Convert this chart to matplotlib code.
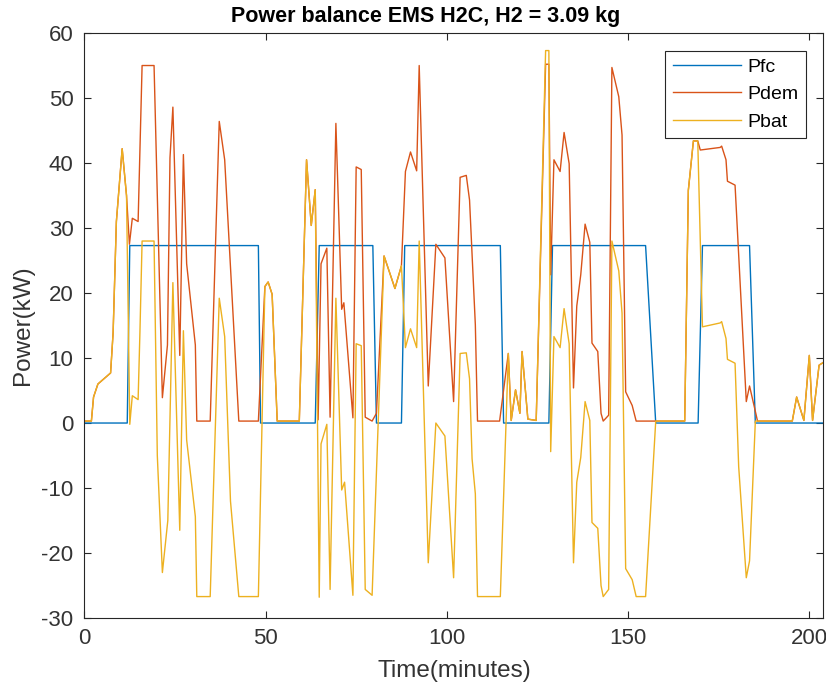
import matplotlib
matplotlib.use("Agg")
import matplotlib.pyplot as plt

plt.rcParams['font.family'] = ['Liberation Sans', 'DejaVu Sans']
plt.rcParams['axes.unicode_minus'] = False

# Fuel cell power (kW) vs time (min)
t_fc = [0, 11.8, 12.5, 48.0, 48.6, 63.7, 64.8, 79.6, 80.6, 87.5, 88.4, 114.8,
        115.7, 128.2, 129.2, 154.9, 157.7, 169.4, 170.6, 183.6, 185.2, 205.3]
p_fc = [0, 0, 27.3, 27.3, 0, 0, 27.3, 27.3, 0, 0, 27.3, 27.3,
        0, 0, 27.3, 27.3, 0, 0, 27.3, 27.3, 0, 0]

# Power demand
t_dem = [0, 1.9, 2.5, 3.7, 7.2, 7.9, 8.8, 10.4, 11.6, 12.4, 13.2, 14.8, 15.9, 19.2,
         21.5, 22.9, 23.6, 24.4, 26.3, 27.3, 28.2, 30.6, 31.0, 34.7, 37.2, 38.7,
         42.6, 48.0, 49.8, 50.7, 51.8, 53.2, 59.3, 61.3, 62.6, 63.7, 64.5, 65.3,
         66.9, 67.8, 69.4, 71.0, 71.6, 74.1, 75.0, 76.4, 77.5, 79.4, 80.6, 82.7,
         85.7, 87.5, 88.6, 90.0, 91.7, 92.4, 94.9, 97.0, 99.5, 101.9, 103.7, 105.4,
         106.3, 107.9, 108.5, 114.6, 117.0, 117.8, 119.0, 120.2, 120.8, 122.4,
         124.7, 127.3, 128.2, 128.7, 129.6, 131.3, 132.4, 133.8, 135.0, 135.9,
         137.0, 138.2, 139.5, 140.1, 141.7, 142.6, 143.2, 144.7, 145.6, 147.5,
         148.4, 149.4, 151.2, 152.3, 165.7, 166.7, 168.1, 169.3, 170.0, 175.5,
         175.9, 177.1, 177.5, 179.6, 182.7, 183.6, 185.2, 185.8, 195.4, 196.6,
         198.6, 200.1, 201.0, 202.8, 205.3]
p_dem = [0.3, 0.3, 4.0, 6.0, 7.7, 13.9, 31.0, 42.2, 35.0, 27.5, 31.5, 31.0, 55.0, 55.0,
         3.9, 12.0, 40.8, 48.6, 10.4, 41.3, 24.5, 12.0, 0.3, 0.3, 46.4, 40.5,
         0.3, 0.3, 21.0, 21.7, 19.8, 0.3, 0.3, 40.5, 30.4, 35.9, 0.5, 24.5,
         26.9, 0.9, 46.1, 17.5, 18.5, 0.8, 39.4, 39.0, 0.9, 0.3, 1.5, 25.7,
         20.7, 24.2, 38.7, 41.7, 38.8, 55.0, 5.7, 27.5, 25.4, 3.3, 37.8, 38.1,
         34.3, 15.1, 0.3, 0.3, 10.7, 0.4, 5.1, 1.5, 11.0, 0.6,
         0.4, 55.2, 55.2, 22.8, 40.5, 38.7, 44.7, 39.9, 5.4, 18.0,
         22.8, 30.6, 27.8, 12.3, 11.0, 1.5, 0.3, 1.2, 54.7, 50.2,
         44.3, 4.8, 2.7, 0.3, 0.3, 35.8, 43.4, 43.4, 42.0, 42.4,
         42.6, 40.5, 37.2, 36.6, 3.3, 5.7, 1.8, 0.3, 0.3, 4.0,
         0.4, 10.4, 0.4, 8.9, 9.8]

# Battery power
t_bat = [0, 1.9, 2.5, 3.7, 7.2, 7.9, 8.8, 10.4, 11.6, 12.5, 13.2, 14.8, 15.3, 15.9,
         19.2, 20.1, 21.5, 23.0, 24.4, 26.3, 27.3, 28.2, 30.6, 31.0, 34.7, 37.2,
         38.7, 40.3, 42.6, 48.0, 49.8, 50.7, 51.8, 53.2, 59.3, 61.3, 62.6, 63.7,
         64.8, 65.3, 66.9, 67.8, 69.4, 71.0, 71.8, 74.1, 75.0, 76.4, 77.5, 79.4,
         82.7, 85.7, 87.5, 88.6, 90.0, 91.7, 92.4, 94.9, 97.0, 99.5, 101.9, 103.7,
         105.4, 106.3, 107.0, 107.9, 108.5, 114.8, 117.0, 117.8, 119.0, 120.2,
         120.8, 122.4, 124.7, 127.3, 128.2, 128.7, 129.6, 131.3, 132.4, 133.8,
         135.0, 135.9, 137.0, 138.2, 139.5, 140.1, 141.7, 142.6, 143.2, 144.7,
         145.6, 147.5, 148.4, 149.4, 151.2, 152.3, 154.9, 157.7, 165.7, 166.7,
         168.1, 169.3, 170.6, 175.5, 175.9, 177.1, 177.5, 179.6, 180.6, 182.7,
         183.6, 185.2, 195.4, 196.6, 198.6, 200.1, 201.0, 202.8, 205.3]
p_bat = [0.3, 0.3, 4.0, 6.0, 7.7, 13.9, 31.0, 42.2, 35.0, -0.2, 4.2, 3.6, 13.9, 28.0,
         28.0, -5.0, -23.0, -15.0, 21.6, -16.5, 14.2, -2.6, -14.4, -26.7, -26.7, 19.2,
         13.3, -12.0, -26.7, -26.7, 21.0, 21.7, 19.8, 0.3, 0.3, 40.5, 30.4, 35.9,
         -26.8, -3.2, -0.2, -25.6, 19.2, -10.3, -9.1, -26.5, 12.2, 11.9, -25.6, -26.5,
         25.7, 20.7, 24.2, 11.6, 14.5, 11.6, 28.0, -21.5, 0.0, -2.0, -23.8, 10.7,
         10.8, 6.8, -5.5, -10.9, -26.7, -26.7, 10.7, 0.4, 5.1, 1.5,
         11.0, 0.6, 0.4, 57.3, 57.3, -4.4, 13.3, 11.6, 17.6, 12.2,
         -21.5, -9.1, -5.3, 3.3, 0.4, -15.3, -16.2, -25.0, -26.7, -25.6,
         28.0, 23.4, 16.9, -22.4, -24.1, -26.7, -26.7, 0.3, 0.3, 35.8,
         43.4, 43.4, 14.8, 15.4, 15.6, 13.0, 9.8, 9.2, -6.7, -23.8,
         -21.2, 0.3, 0.3, 4.0, 0.4, 10.4, 0.4, 8.9, 9.8]

fig = plt.figure(figsize=(8.26, 6.88), dpi=100)
ax = fig.add_axes([0.1023, 0.1017, 0.8946, 0.8503])

ax.plot(t_fc, p_fc, color='#0072BD', lw=1.0, label='Pfc')
ax.plot(t_dem, p_dem, color='#D95319', lw=1.0, label='Pdem')
ax.plot(t_bat, p_bat, color='#EDB120', lw=1.0, label='Pbat')

ax.set_xlim(0, 204)
ax.set_ylim(-30, 60)
ax.set_xticks([0, 50, 100, 150, 200])
ax.set_yticks(range(-30, 61, 10))
ax.tick_params(direction='in', top=True, right=True, length=5, width=0.8,
               labelsize=16, colors='#262626', labelcolor='#333333')
ax.tick_params(axis='x', pad=7)
ax.tick_params(axis='y', pad=8)
for s in ax.spines.values():
    s.set_color('#262626')
    s.set_linewidth(0.8)

ax.set_xlabel('Time(minutes)', fontsize=17.5, color='#333333', labelpad=8)
ax.set_ylabel('Power(kW)', fontsize=17.5, color='#333333', labelpad=5)
ax.set_title('Power balance EMS H2C, H2 = 3.09 kg', fontsize=15.5,
             fontweight='bold', pad=8, x=0.461)

leg = ax.legend(loc='upper right', fontsize=14, fancybox=False, framealpha=1,
                edgecolor='#262626', handlelength=3.5, handletextpad=0.3,
                borderaxespad=0.9)
leg.get_frame().set_linewidth(0.8)

fig.savefig('out.png', dpi=100)
